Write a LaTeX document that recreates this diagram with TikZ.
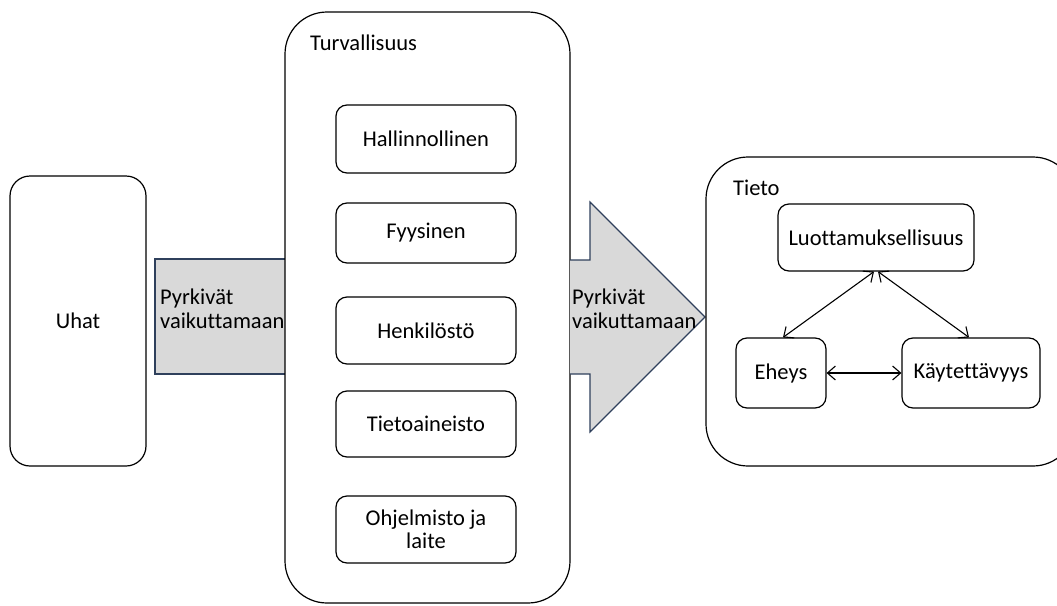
\documentclass[tikz,border=0pt]{standalone}
\usepackage{fontspec}
\setmainfont[Ligatures=NoCommon]{Carlito}
\usetikzlibrary{arrows.meta}
\definecolor{arrowfill}{RGB}{217,217,217}
\definecolor{arrowline}{RGB}{47,64,92}
\begin{document}
\begin{tikzpicture}[x=1pt,y=-1pt,
  every node/.style={font=\fontsize{22.5}{23.5}\selectfont},
  outerbox/.style={draw,line width=1.2pt,rounded corners=42pt,fill=white},
  itembox/.style={draw,line width=1.2pt,rounded corners=11pt,fill=white,align=center},
  flow/.style={draw=arrowline,line width=1.1pt,fill=arrowfill},
  link/.style={line width=1.1pt,{Straight Barb[length=8pt,width=14pt]}-{Straight Barb[length=8pt,width=14pt]}}]
\useasboundingbox (0,0) rectangle (1057,605);

% threats
\node[draw,line width=1.2pt,rounded corners=20pt,minimum width=136pt,minimum height=290pt] (uhat) at (78,321) {Uhat};

% first flow arrow (plain rectangle)
\draw[flow] (155,259) rectangle (286,374);
\node[anchor=west,align=left,inner sep=0pt] (flow1) at (160,309) {Pyrkivät\\vaikuttamaan};

% security container
\draw[outerbox] (285,12) rectangle (570,603);
\node[anchor=north west,inner sep=0pt] (turv) at (310,35) {Turvallisuus};
\node[itembox,minimum width=180pt,minimum height=68pt] (hal) at (426,139) {Hallinnollinen};
\node[itembox,minimum width=180pt,minimum height=60pt] (fyy) at (426,233) {Fyysinen};
\node[itembox,minimum width=180pt,minimum height=67pt] (hen) at (426,330.5) {Henkilöstö};
\node[itembox,minimum width=180pt,minimum height=66pt] (tie) at (426,424) {Tietoaineisto};
\node[itembox,minimum width=180pt,minimum height=67pt] (ohj) at (426,529.5) {Ohjelmisto ja\\laite};

% second flow arrow
\draw[flow] (570,260) -- (590,260) -- (590,202) -- (705,317) -- (590,432) -- (590,374) -- (570,374);
\node[anchor=west,align=left,inner sep=0pt] (flow2) at (572,309) {Pyrkivät\\vaikuttamaan};

% information container
\draw[outerbox] (706,157) rectangle (1075,466);
\node[anchor=north west,inner sep=0pt] (tieto) at (733,180) {Tieto};
\node[itembox,minimum width=196pt,minimum height=67pt] (luo) at (876,237.5) {Luottamuksellisuus};
\node[itembox,minimum width=90pt,minimum height=70pt] (ehe) at (781,373) {Eheys};
\node[itembox,minimum width=138pt,minimum height=70pt] (kay) at (971,373) {Käytettävyys};

\draw[link] ([xshift=-2pt]luo.south) -- ([xshift=2pt]ehe.north);
\draw[link] ([xshift=2pt]luo.south) -- ([xshift=-2pt]kay.north);
\draw[link] (ehe.east) -- (kay.west);
\end{tikzpicture}
\end{document}
